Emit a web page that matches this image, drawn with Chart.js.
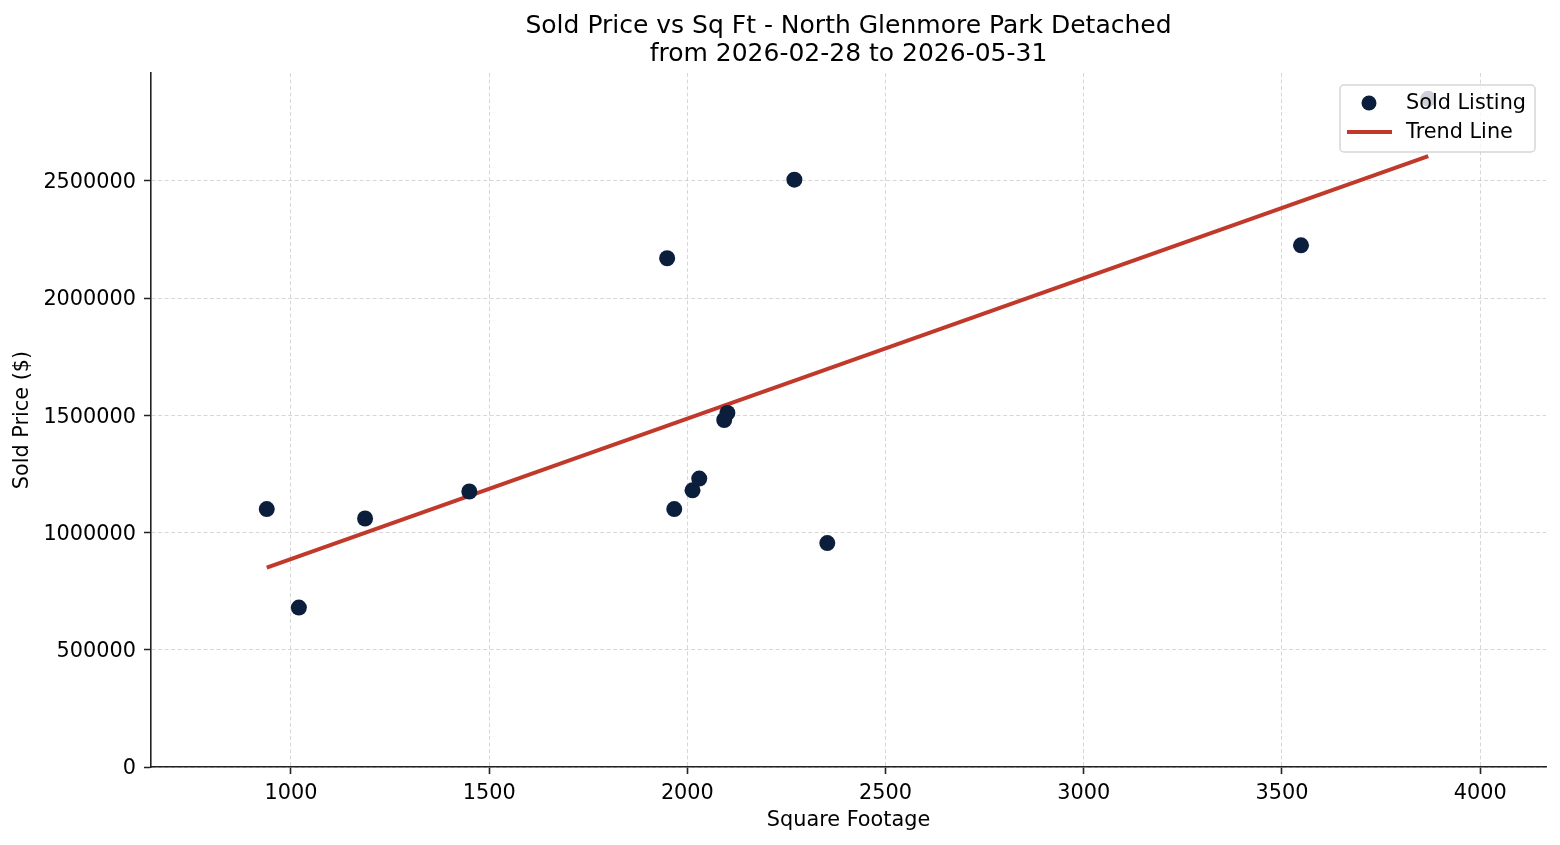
<!DOCTYPE html>
<html lang="en">
<head>
    <meta charset="UTF-8">
    <title>Sold Price vs Sq Ft</title>
    <style>
        body {
            margin: 0;
            background-color: #ffffff;
        }
        .chart-box {
            width: 1560px;
            height: 845px;
        }
    </style>
    <script src="https://cdn.jsdelivr.net/npm/chart.js"></script>
</head>
<body>

<div class="chart-box">
    <canvas id="scatter-chart" width="1560" height="845"></canvas>
</div>

<script>
// Data
const sqft = [939, 1020, 1187, 1450, 1949, 1967, 2013, 2030, 2093, 2101, 2270, 2353, 3548, 3869];
const soldPrice = [1100000, 680000, 1060000, 1175000, 2170000, 1100000, 1180000, 1230000, 1480000, 1510000, 2505000, 955000, 2225000, 2850000];

// Trend line end points
const trendSqft = [939, 3869];
const trendPrice = [850000, 2605000];

// Axis ticks and ranges
const xTicks = [1000, 1500, 2000, 2500, 3000, 3500, 4000];
const yTicks = [0, 500000, 1000000, 1500000, 2000000, 2500000];
const xRange = [647, 4166];
const yRange = [0, 2960000];

const titleLines = ['Sold Price vs Sq Ft - North Glenmore Park Detached', 'from 2026-02-28 to 2026-05-31'];
const legendLabels = ['Sold Listing', 'Trend Line'];

const pointColor = '#0b1e3c';
const lineColor = '#c0392b';
const axisColor = '#222222';
const fontFamily = '"DejaVu Sans", Verdana, sans-serif';

// Draws the two-line title centered on the plot area, and a matplotlib style legend
const titleAndLegend = {
    id: 'titleAndLegend',
    afterDraw(chart) {
        const ctx = chart.ctx;
        const area = chart.chartArea;
        ctx.save();

        // title
        ctx.fillStyle = '#000';
        ctx.font = '25px ' + fontFamily;
        ctx.textAlign = 'center';
        ctx.textBaseline = 'middle';
        const cx = (area.left + area.right) / 2;
        ctx.fillText(titleLines[0], cx, 26);
        ctx.fillText(titleLines[1], cx, 54);

        // legend box
        const bx = area.right - 206, by = area.top + 12, bw = 195, bh = 67, r = 4;
        ctx.beginPath();
        ctx.moveTo(bx + r, by);
        ctx.arcTo(bx + bw, by, bx + bw, by + bh, r);
        ctx.arcTo(bx + bw, by + bh, bx, by + bh, r);
        ctx.arcTo(bx, by + bh, bx, by, r);
        ctx.arcTo(bx, by, bx + bw, by, r);
        ctx.closePath();
        ctx.fillStyle = 'rgba(255,255,255,0.8)';
        ctx.fill();
        ctx.strokeStyle = 'rgba(204,204,204,0.8)';
        ctx.lineWidth = 1.5;
        ctx.stroke();

        // marker
        ctx.beginPath();
        ctx.arc(bx + 29, by + 18, 7.5, 0, Math.PI * 2);
        ctx.fillStyle = pointColor;
        ctx.fill();

        // line sample
        ctx.beginPath();
        ctx.moveTo(bx + 7, by + 47);
        ctx.lineTo(bx + 52, by + 47);
        ctx.strokeStyle = lineColor;
        ctx.lineWidth = 4;
        ctx.stroke();

        ctx.fillStyle = '#000';
        ctx.font = '20.8px ' + fontFamily;
        ctx.textAlign = 'left';
        ctx.fillText(legendLabels[0], bx + 66, by + 19);
        ctx.fillText(legendLabels[1], bx + 66, by + 48);
        ctx.restore();
    }
};

const ctx = document.getElementById('scatter-chart').getContext('2d');

new Chart(ctx, {
    type: 'scatter',
    data: {
        datasets: [{
            label: legendLabels[0],
            data: sqft.map((x, i) => ({ x: x, y: soldPrice[i] })),
            backgroundColor: pointColor,
            borderColor: pointColor,
            borderWidth: 0,
            pointRadius: 8,
            order: 0
        }, {
            type: 'line',
            label: legendLabels[1],
            data: trendSqft.map((x, i) => ({ x: x, y: trendPrice[i] })),
            borderColor: lineColor,
            borderWidth: 4,
            pointRadius: 0,
            fill: false,
            order: 1
        }]
    },
    options: {
        responsive: false,
        devicePixelRatio: 1,
        animation: false,
        layout: {
            padding: { top: 73, right: 14, bottom: 0, left: 0 }
        },
        plugins: {
            legend: { display: false },
            title: { display: false },
            tooltip: { enabled: false }
        },
        scales: {
            x: {
                type: 'linear',
                min: xRange[0],
                max: xRange[1],
                afterBuildTicks: scale => { scale.ticks = xTicks.map(v => ({ value: v })); },
                afterFit: scale => { scale.height = 78; },
                ticks: {
                    color: '#000',
                    padding: 7,
                    font: { family: fontFamily, size: 20.8 },
                    callback: v => String(v)
                },
                grid: {
                    color: 'rgba(176,176,176,0.5)',
                    lineWidth: 1,
                    tickLength: 7,
                    tickColor: axisColor,
                    tickWidth: 1.6,
                    tickBorderDash: [1, 0]
                },
                border: { color: axisColor, width: 1.6, dash: [4, 2.5] },
                title: {
                    display: true,
                    text: 'Square Footage',
                    color: '#000',
                    font: { family: fontFamily, size: 20.8 },
                    padding: { top: 0, bottom: 12 }
                }
            },
            y: {
                type: 'linear',
                min: yRange[0],
                max: yRange[1],
                afterBuildTicks: scale => { scale.ticks = yTicks.map(v => ({ value: v })); },
                afterFit: scale => { scale.width = 151; },
                ticks: {
                    color: '#000',
                    padding: 8,
                    labelOffset: 2,
                    font: { family: fontFamily, size: 20.8 },
                    callback: v => String(v)
                },
                grid: {
                    color: 'rgba(176,176,176,0.5)',
                    lineWidth: 1,
                    tickLength: 7,
                    tickColor: axisColor,
                    tickWidth: 1.6,
                    tickBorderDash: [1, 0]
                },
                border: { color: axisColor, width: 1.6, dash: [4, 2.5] },
                title: {
                    display: true,
                    text: 'Sold Price ($)',
                    color: '#000',
                    font: { family: fontFamily, size: 20.8 },
                    padding: { top: 10, bottom: 0 }
                }
            }
        }
    },
    plugins: [titleAndLegend]
});
</script>

</body>
</html>
